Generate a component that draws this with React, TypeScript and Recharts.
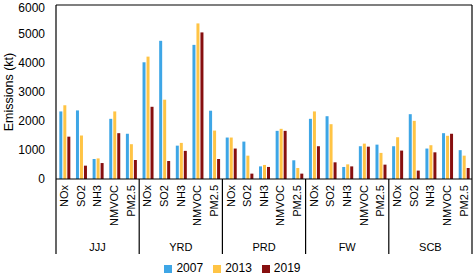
import React from 'react';
import { BarChart, Bar, XAxis, YAxis, Legend, ReferenceLine } from 'recharts';

const regions = ['JJJ', 'YRD', 'PRD', 'FW', 'SCB'];
const pollutants = ['NOx', 'SO2', 'NH3', 'NMVOC', 'PM2.5'];

// emissions in kt, region by region, same pollutant order
const e2007 = [2330, 2365, 690, 2075, 1560, 4025, 4765, 1150, 4625, 2355, 1430, 1290, 435, 1660, 645, 2075, 2165, 415, 1130, 1185, 1130, 2235, 1050, 1580, 995];
const e2013 = [2540, 1500, 710, 2330, 1200, 4220, 2735, 1245, 5365, 1670, 1430, 805, 485, 1730, 380, 2330, 1890, 505, 1220, 900, 1440, 2005, 1165, 1490, 805];
const e2019 = [1460, 460, 550, 1580, 655, 2490, 620, 970, 5055, 690, 1050, 185, 415, 1660, 185, 1130, 575, 435, 1115, 495, 980, 290, 920, 1560, 380];

const yTicks = [0, 1000, 2000, 3000, 4000, 5000, 6000];

const data = e2007.map((v, i) => ({
    key: regions[Math.floor(i / 5)] + '|' + pollutants[i % 5],
    y2007: v,
    y2013: e2013[i],
    y2019: e2019[i],
}));

const FONT = '"Liberation Sans", Arial, sans-serif';

const CategoryTick = (props: any) => {
    const { x, y, payload, index } = props;
    const [region, pollutant] = String(payload.value).split('|');
    const half = payload.offset || 8.32;
    const top = y - 8;
    return (
        <g>
            <text
                x={x}
                y={y - 2}
                transform={`rotate(-90, ${x}, ${y - 2})`}
                textAnchor="end"
                dy="0.35em"
                fontSize={11}
                fontFamily={FONT}
                fill="#000"
            >
                {pollutant}
            </text>
            {index % 5 === 0 && (
                <line x1={x - half} x2={x - half} y1={top} y2={top + 75} stroke="#000" strokeWidth={1.2} />
            )}
            {index === data.length - 1 && (
                <line x1={x + half} x2={x + half} y1={top} y2={top + 75} stroke="#000" strokeWidth={1.2} />
            )}
            {index % 5 === 2 && (
                <text x={x} y={top + 72} textAnchor="middle" fontSize={11} fontFamily={FONT} fill="#000">
                    {region}
                </text>
            )}
        </g>
    );
};

export default function App() {
    return (
        <div style={{ position: 'absolute', left: 0, top: 0, width: 475, height: 277, background: '#fff' }}>
            <BarChart
                width={475}
                height={277}
                data={data}
                margin={{ top: 5, right: 0, left: 0, bottom: 2 }}
                barCategoryGap="20%"
                barGap={1}
            >
                <XAxis
                    dataKey="key"
                    interval={0}
                    height={82}
                    tickLine={false}
                    axisLine={{ stroke: '#000', strokeWidth: 1.2 }}
                    tick={<CategoryTick />}
                />
                <YAxis
                    yAxisId="left"
                    domain={[0, 6000]}
                    ticks={yTicks}
                    width={56}
                    tickLine={false}
                    tickMargin={5}
                    axisLine={{ stroke: '#000', strokeWidth: 1.2 }}
                    tick={{ fontSize: 12, fill: '#000', fontFamily: FONT }}
                    label={{
                        value: 'Emissions (kt)',
                        angle: -90,
                        position: 'insideLeft',
                        dx: 4,
                        style: { fontSize: 12.5, fill: '#000', fontFamily: FONT, textAnchor: 'middle' },
                    }}
                />
                <YAxis
                    yAxisId="right"
                    orientation="right"
                    domain={[0, 6000]}
                    width={3}
                    tick={false}
                    tickLine={false}
                    axisLine={{ stroke: '#000', strokeWidth: 1.2 }}
                />
                <ReferenceLine yAxisId="left" y={6000} stroke="#000" strokeWidth={1.2} />
                <Legend
                    verticalAlign="bottom"
                    align="center"
                    iconType="square"
                    iconSize={8}
                    wrapperStyle={{ fontSize: 12, fontFamily: FONT, color: '#000' }}
                    formatter={(value: string) => <span style={{ color: '#000' }}>{value}</span>}
                />
                <Bar yAxisId="left" dataKey="y2007" name="2007" fill="#3EA6E6" isAnimationActive={false} />
                <Bar yAxisId="left" dataKey="y2013" name="2013" fill="#FFC445" isAnimationActive={false} />
                <Bar yAxisId="left" dataKey="y2019" name="2019" fill="#870F0F" isAnimationActive={false} />
            </BarChart>
        </div>
    );
}
